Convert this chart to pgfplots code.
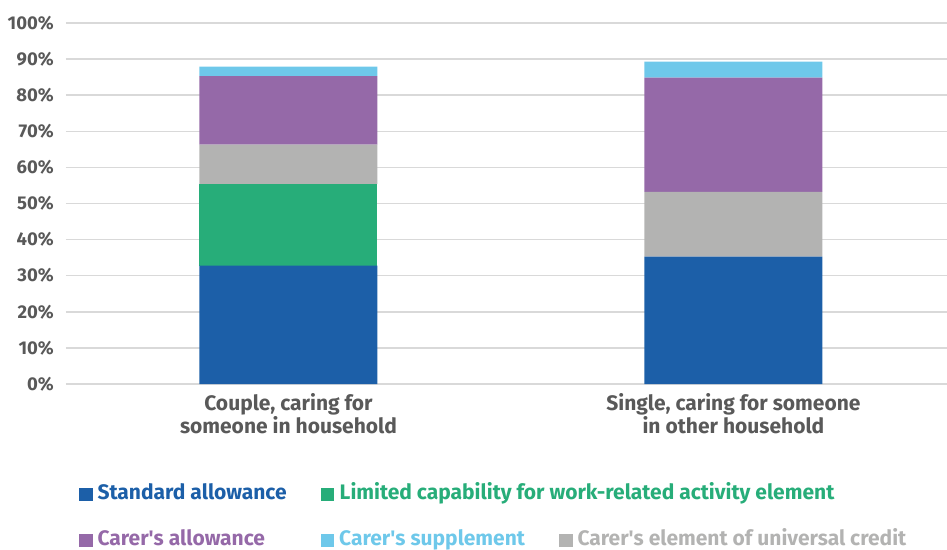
\documentclass[border=0pt]{standalone}
\usepackage{pgfplots}
\pgfplotsset{compat=1.18}
\usepackage{fontspec}
\setmainfont{Fira Sans}
\definecolor{cBlue}{HTML}{1C5FA8}
\definecolor{cGreen}{HTML}{27AD79}
\definecolor{cGray}{HTML}{B3B3B2}
\definecolor{cPurple}{HTML}{9569A8}
\definecolor{cCyan}{HTML}{6EC8EA}
\definecolor{cText}{HTML}{595959}
\definecolor{cGrid}{HTML}{D9D9D9}
\begin{document}
\begin{tikzpicture}
\path[use as bounding box] (-66pt,-165pt) rectangle (881pt,384pt);
\begin{axis}[
  at={(0pt,0pt)}, anchor=south west,
  scale only axis, width=881pt, height=361pt,
  ybar stacked, bar width=178pt,
  ymin=0, ymax=100, ytick={0,10,...,100},
  yticklabels={0\%,10\%,20\%,30\%,40\%,50\%,60\%,70\%,80\%,90\%,100\%},
  xmin=-0.5, xmax=1.48,
  xtick={0,1},
  xticklabels={{Couple, caring for\\someone in household},{Single, caring for someone\\in other household}},
  axis line style={draw=none},
  major tick length=0pt,
  ymajorgrids, grid style={cGrid, line width=1.5pt},
  yticklabel style={font=\bfseries\fontsize{18.5}{22}\selectfont, text=cText, inner sep=0pt, xshift=-12pt},
  xticklabel style={font=\bfseries\fontsize{21}{23}\selectfont, text=cText, align=center, inner sep=0pt, yshift=-9.5pt},
  legend columns=3,
  legend cell align=left,
  legend style={draw=none, fill=none, inner sep=0pt, outer sep=0pt,
    at={(axis description cs:0.0148,-0.278)}, anchor=north west,
    font=\bfseries\fontsize{21}{25}\selectfont,
    column sep=5pt, row sep=26pt,
    nodes={inner sep=0pt, text height=15pt, text depth=5pt},
    /tikz/every even column/.append style={column sep=34pt}},
  legend image code/.code={\fill[#1] (0pt,-6.75pt) rectangle (13.5pt,6.75pt);},
]
\addplot[fill=cBlue, draw=none, forget plot] coordinates {(0,32.8) (1,35.3)};
\addplot[fill=cGreen, draw=none, forget plot] coordinates {(0,22.6) (1,0)};
\addplot[fill=cGray, draw=none, forget plot] coordinates {(0,10.9) (1,17.9)};
\addplot[fill=cPurple, draw=none, forget plot] coordinates {(0,19.0) (1,31.7)};
\addplot[fill=cCyan, draw=none, forget plot] coordinates {(0,2.6) (1,4.4)};
\addlegendimage{fill=cBlue, draw=none}
\addlegendentry{\textcolor{cBlue}{Standard allowance}}
\addlegendimage{fill=cGreen, draw=none}
\addlegendentry{\rlap{\textcolor{cGreen}{Limited capability for work-related activity element}}}
\addlegendimage{empty legend}
\addlegendentry{}
\addlegendimage{fill=cPurple, draw=none}
\addlegendentry{\textcolor{cPurple}{Carer\textquotesingle s allowance}}
\addlegendimage{fill=cCyan, draw=none}
\addlegendentry{\textcolor{cCyan}{Carer\textquotesingle s supplement}}
\addlegendimage{fill=cGray, draw=none}
\addlegendentry{\textcolor{cGray}{Carer\textquotesingle s element of universal credit}}
\end{axis}
\end{tikzpicture}
\end{document}
